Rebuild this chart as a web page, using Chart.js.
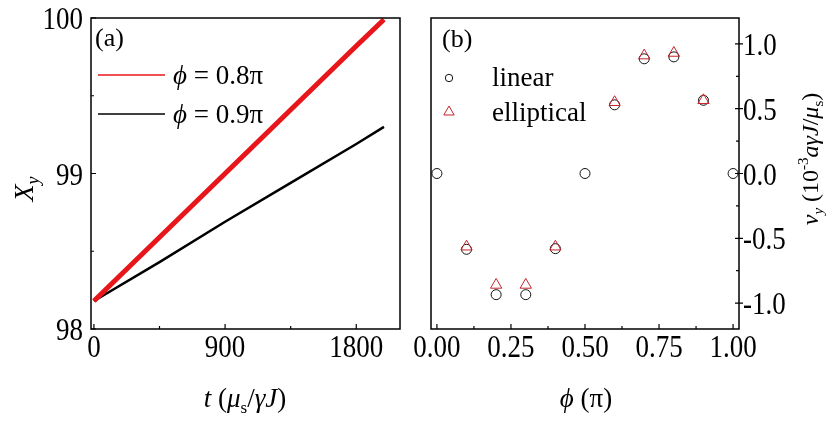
<!DOCTYPE html>
<html>
<head>
<meta charset="utf-8">
<script src="https://cdn.jsdelivr.net/npm/chart.js@4.4.0/dist/chart.umd.min.js"></script>
<style>
	body { margin: 0; background: #fff; }
	#wrap { position: relative; width: 834px; height: 421px; }
	canvas { position: absolute; top: 0; }
	#ca { left: 0; }
	#cb { left: 405px; }
</style>
</head>
<body>
<div id="wrap">
	<canvas id="ca" width="405" height="421"></canvas>
	<canvas id="cb" width="429" height="421"></canvas>
</div>
<script>
// panel (a) : X_y against t
const tValues = [0, 450, 900, 1350, 1800, 1990];
const xyPhi08 = [98.18, 98.59, 99.00, 99.41, 99.82, 99.99];
const xyPhi09 = [98.18, 98.43, 98.69, 98.94, 99.19, 99.30];
const tTicks = [0, 900, 1800];
const tMinor = [450, 1350];
const xyTicks = [98, 99, 100];
const xyMinor = [98.5, 99.5];

// panel (b) : v_y against phi
const phiLinear = [0, 0.1, 0.2, 0.3, 0.4, 0.5, 0.6, 0.7, 0.8, 0.9, 1.0];
const vyLinear = [0, -0.585, -0.935, -0.935, -0.58, 0, 0.53, 0.885, 0.90, 0.565, 0];
const phiElliptical = [0.1, 0.2, 0.3, 0.4, 0.6, 0.7, 0.8, 0.9];
const vyElliptical = [-0.565, -0.86, -0.86, -0.565, 0.55, 0.91, 0.93, 0.565];
const phiTicks = [0, 0.25, 0.5, 0.75, 1];
const phiMinor = [0.125, 0.375, 0.625, 0.875];
const vyTicks = [-1, -0.5, 0, 0.5, 1];
const vyMinor = [-0.75, -0.25, 0.25, 0.75];

const SERIF = '"Liberation Serif", "Times New Roman", serif';
const RED = '#e8161b';
const TRI = '#c4242b';
const STRETCH = 1.2; // tick numbers in the figure are drawn taller than wide

function pts(xs, ys) {
	return xs.map((x, i) => ({ x: x, y: ys[i] }));
}

function fnt(p) {
	return (p.i ? 'italic ' : '') + (p.size || 27) + 'px ' + SERIF;
}

// text made of pieces (italic, sub/superscript), centred or left aligned
function rich(ctx, parts, x, y, rot, align) {
	ctx.save();
	ctx.translate(x, y);
	ctx.rotate(rot || 0);
	ctx.textBaseline = 'alphabetic';
	ctx.textAlign = 'left';
	ctx.fillStyle = '#000';
	let w = 0;
	parts.forEach(p => { ctx.font = fnt(p); w += ctx.measureText(p.t).width; });
	let cx = align === 'left' ? 0 : -w / 2;
	parts.forEach(p => {
		ctx.font = fnt(p);
		ctx.fillText(p.t, cx, p.dy || 0);
		cx += ctx.measureText(p.t).width;
	});
	ctx.restore();
}

function tickText(ctx, txt, x, y, align) {
	ctx.save();
	ctx.translate(x, y);
	ctx.scale(1, STRETCH);
	ctx.font = '27px ' + SERIF;
	ctx.fillStyle = '#000';
	ctx.textAlign = align;
	ctx.textBaseline = 'alphabetic';
	ctx.fillText(txt, 0, 0);
	ctx.restore();
}

function fixW(w) {
	return s => { s.width = w; s.paddingLeft = s.paddingRight = s.paddingTop = s.paddingBottom = 0; };
}
function fixH(h) {
	return s => { s.height = h; s.paddingLeft = s.paddingRight = s.paddingTop = s.paddingBottom = 0; };
}
function setTicks(vals) {
	return s => { s.ticks = vals.map(v => ({ value: v })); };
}

// box, inward tick marks and tick numbers
const framePlugin = {
	id: 'frame',
	afterDatasetsDraw(chart, args, o) {
		const ctx = chart.ctx;
		const a = chart.chartArea;
		const sx = chart.scales.x, sy = chart.scales.y;
		ctx.save();
		ctx.strokeStyle = '#000';
		ctx.lineWidth = 1.5;
		ctx.strokeRect(a.left, a.top, a.right - a.left, a.bottom - a.top);
		ctx.lineWidth = 1.2;
		ctx.beginPath();
		o.xTicks.forEach(v => { const p = sx.getPixelForValue(v); ctx.moveTo(p, a.bottom); ctx.lineTo(p, a.bottom - 5); });
		o.xMinor.forEach(v => { const p = sx.getPixelForValue(v); ctx.moveTo(p, a.bottom); ctx.lineTo(p, a.bottom - 3); });
		if (o.yRight) {
			o.yTicks.forEach(v => { const p = sy.getPixelForValue(v); ctx.moveTo(a.right - 4, p); ctx.lineTo(a.right + 4, p); });
			o.yMinor.forEach(v => { const p = sy.getPixelForValue(v); ctx.moveTo(a.right, p); ctx.lineTo(a.right - 3, p); });
		} else {
			o.yTicks.forEach(v => { const p = sy.getPixelForValue(v); ctx.moveTo(a.left, p); ctx.lineTo(a.left + 5, p); });
			o.yMinor.forEach(v => { const p = sy.getPixelForValue(v); ctx.moveTo(a.left, p); ctx.lineTo(a.left + 3, p); });
		}
		ctx.stroke();
		ctx.restore();

		sx.ticks.forEach(t => tickText(ctx, o.xFmt(t.value), sx.getPixelForValue(t.value), a.bottom + 28, 'center'));
		sy.ticks.forEach(t => {
			const p = sy.getPixelForValue(t.value) + 11;
			if (o.yRight) tickText(ctx, o.yFmt(t.value), a.right + 4, p, 'left');
			else tickText(ctx, o.yFmt(t.value), a.left - 8, p, 'right');
		});
	}
};

// ---------- panel (a)
new Chart(document.getElementById('ca'), {
	type: 'line',
	data: {
		datasets: [{
				label: 'phi = 0.8pi',
				data: pts(tValues, xyPhi08),
				borderColor: RED,
				borderWidth: 5,
				pointRadius: 0,
				tension: 0
			},
			{
				label: 'phi = 0.9pi',
				data: pts(tValues, xyPhi09),
				borderColor: '#000',
				borderWidth: 2.5,
				pointRadius: 0,
				tension: 0
			}
		]
	},
	options: {
		responsive: false,
		animation: false,
		devicePixelRatio: 1,
		layout: { padding: { left: 0, right: 5, top: 18, bottom: 0 } },
		scales: {
			x: {
				type: 'linear',
				min: -20,
				max: 2100,
				grid: { display: false, drawTicks: false },
				border: { display: false },
				ticks: { display: false },
				afterBuildTicks: setTicks(tTicks),
				afterFit: fixH(92)
			},
			y: {
				type: 'linear',
				min: 98,
				max: 100,
				grid: { display: false, drawTicks: false },
				border: { display: false },
				ticks: { display: false },
				afterBuildTicks: setTicks(xyTicks),
				afterFit: fixW(91)
			}
		},
		plugins: {
			legend: { display: false },
			tooltip: { enabled: false },
			frame: {
				xTicks: tTicks, xMinor: tMinor, yTicks: xyTicks, yMinor: xyMinor, yRight: false,
				xFmt: v => String(v), yFmt: v => String(v)
			}
		}
	},
	plugins: [framePlugin, {
		id: 'textA',
		afterDraw(chart) {
			const ctx = chart.ctx;
			rich(ctx, [{ t: '(a)', size: 26 }], 95, 46, 0, 'left');
			ctx.save();
			ctx.lineWidth = 1.6;
			ctx.strokeStyle = RED;
			ctx.beginPath(); ctx.moveTo(98, 75); ctx.lineTo(165, 75); ctx.stroke();
			ctx.strokeStyle = '#000';
			ctx.beginPath(); ctx.moveTo(98, 114); ctx.lineTo(165, 114); ctx.stroke();
			ctx.restore();
			rich(ctx, [{ t: '\u03d5', i: true }, { t: ' = 0.8\u03c0' }], 173, 84, 0, 'left');
			rich(ctx, [{ t: '\u03d5', i: true }, { t: ' = 0.9\u03c0' }], 173, 123, 0, 'left');
			// axis titles
			rich(ctx, [{ t: 'X', i: true, size: 28 }, { t: 'y', i: true, size: 18, dy: 6 }], 33, 189, -Math.PI / 2);
			rich(ctx, [{ t: 't', i: true }, { t: ' (' }, { t: '\u03bc', i: true }, { t: 's', size: 17, dy: 6 },
				{ t: '/' }, { t: '\u03b3J', i: true }, { t: ')' }], 245, 407, 0);
		}
	}]
});

// ---------- panel (b)
new Chart(document.getElementById('cb'), {
	type: 'scatter',
	data: {
		datasets: [{
				label: 'elliptical',
				data: pts(phiElliptical, vyElliptical),
				pointStyle: 'triangle',
				pointRadius: 6.5,
				borderColor: TRI,
				backgroundColor: 'rgba(0,0,0,0)',
				borderWidth: 1,
				clip: false
			},
			{
				label: 'linear',
				data: pts(phiLinear, vyLinear),
				pointStyle: 'circle',
				pointRadius: 5,
				borderColor: '#111',
				backgroundColor: 'rgba(0,0,0,0)',
				borderWidth: 1,
				clip: false
			}
		]
	},
	options: {
		responsive: false,
		animation: false,
		devicePixelRatio: 1,
		layout: { padding: { left: 26, right: 0, top: 18, bottom: 0 } },
		scales: {
			x: {
				type: 'linear',
				min: -0.02,
				max: 1.02,
				grid: { display: false, drawTicks: false },
				border: { display: false },
				ticks: { display: false },
				afterBuildTicks: setTicks(phiTicks),
				afterFit: fixH(92)
			},
			y: {
				type: 'linear',
				position: 'right',
				min: -1.2,
				max: 1.2,
				grid: { display: false, drawTicks: false },
				border: { display: false },
				ticks: { display: false },
				afterBuildTicks: setTicks(vyTicks),
				afterFit: fixW(95)
			}
		},
		plugins: {
			legend: { display: false },
			tooltip: { enabled: false },
			frame: {
				xTicks: phiTicks, xMinor: phiMinor, yTicks: vyTicks, yMinor: vyMinor, yRight: true,
				xFmt: v => v.toFixed(2), yFmt: v => v.toFixed(1)
			}
		}
	},
	plugins: [framePlugin, {
		id: 'textB',
		afterDraw(chart) {
			const ctx = chart.ctx;
			const ox = 405;
			rich(ctx, [{ t: '(b)', size: 26 }], 442 - ox, 47, 0, 'left');
			ctx.save();
			ctx.strokeStyle = '#111';
			Chart.helpers.drawPoint(ctx, { pointStyle: 'circle', radius: 3.7, borderWidth: 1, rotation: 0 }, 449 - ox, 78);
			ctx.strokeStyle = TRI;
			Chart.helpers.drawPoint(ctx, { pointStyle: 'triangle', radius: 6, borderWidth: 1, rotation: 0 }, 449 - ox, 112);
			ctx.restore();
			rich(ctx, [{ t: 'linear' }], 492 - ox, 86, 0, 'left');
			rich(ctx, [{ t: 'elliptical' }], 492 - ox, 121, 0, 'left');
			// axis titles
			rich(ctx, [{ t: '\u03d5', i: true }, { t: ' (\u03c0)' }], 586 - ox, 407, 0);
			rich(ctx, [{ t: 'v', i: true, size: 24 }, { t: 'y', i: true, size: 15, dy: 5 }, { t: ' (10', size: 24 },
				{ t: '-3', size: 15, dy: -10 }, { t: 'a\u03b3J', i: true, size: 24 }, { t: '/', size: 24 },
				{ t: '\u03bc', i: true, size: 24 }, { t: 's', size: 15, dy: 5 }, { t: ')', size: 24 }], 818 - ox, 159, -Math.PI / 2);
		}
	}]
});
</script>
</body>
</html>
